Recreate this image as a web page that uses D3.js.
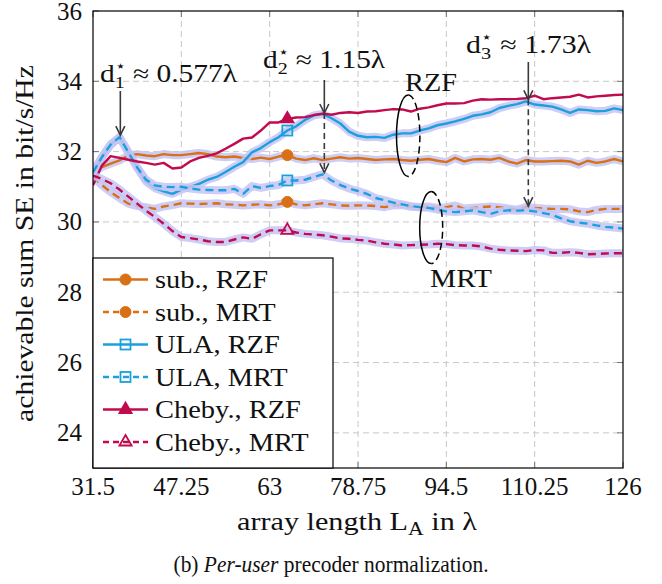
<!DOCTYPE html>
<html>
<head>
<meta charset="utf-8">
<script src="https://cdn.jsdelivr.net/npm/d3@7"></script>
<style>
  body { margin: 0; background: #fff; }
  text { font-family: "Liberation Serif", "Times New Roman", serif; fill: #111; }
</style>
</head>
<body>
<svg id="chart" width="662" height="584"></svg>
<script>
// antenna spacing d (in lambda) and array length L_A = 63 d
const dSpacing = d3.range(0, 61).map(i => 0.5 + 0.025 * i);
const arrayLen = dSpacing.map(d => 63 * d);

const subRZF = [31.41,31.56,31.66,31.75,31.89,31.93,31.89,31.87,31.93,31.90,
  31.90,31.93,31.96,31.93,31.86,31.84,31.86,31.82,31.79,31.83,
  31.79,31.86,31.90,31.80,31.76,31.81,31.76,31.80,31.84,31.80,
  31.82,31.79,31.76,31.78,31.79,31.76,31.74,31.77,31.79,31.74,
  31.70,31.82,31.72,31.78,31.79,31.77,31.82,31.72,31.66,31.76,
  31.72,31.72,31.73,31.74,31.72,31.63,31.74,31.68,31.72,31.79,31.72];
const subMRT = [31.29,31.05,30.85,30.68,30.52,30.45,30.42,30.37,30.44,30.48,
  30.53,30.52,30.51,30.52,30.53,30.50,30.49,30.47,30.49,30.50,
  30.47,30.50,30.57,30.50,30.47,30.50,30.53,30.50,30.47,30.46,
  30.47,30.47,30.45,30.42,30.47,30.48,30.43,30.42,30.44,30.40,
  30.42,30.47,30.38,30.40,30.42,30.44,30.42,30.38,30.35,30.42,
  30.40,30.38,30.37,30.37,30.36,30.30,30.28,30.34,30.37,30.37,30.37];
const ulaRZF = [31.41,31.84,32.20,32.41,31.98,31.55,31.15,30.96,30.87,30.80,
  30.92,31.00,31.08,31.20,31.28,31.42,31.57,31.70,31.98,32.10,
  32.27,32.41,32.60,32.72,32.90,33.03,33.07,32.95,32.80,32.57,
  32.45,32.41,32.42,32.39,32.48,32.52,32.52,32.60,32.66,32.75,
  32.80,32.86,32.93,33.02,33.06,33.12,33.24,33.30,33.35,33.43,
  33.34,33.31,33.28,33.20,33.10,33.20,33.18,33.15,33.16,33.23,33.18];
const ulaMRT = [31.41,31.84,32.20,32.41,31.98,31.55,31.20,31.04,31.00,30.99,
  31.00,30.95,30.92,30.91,30.90,30.90,30.94,30.80,31.02,30.97,
  31.02,31.05,31.18,31.18,31.20,31.28,31.35,31.18,31.05,30.95,
  30.88,30.80,30.68,30.62,30.55,30.50,30.45,30.42,30.40,30.35,
  30.30,30.28,30.30,30.33,30.28,30.23,30.30,30.33,30.32,30.33,
  30.30,30.25,30.20,30.10,30.02,29.98,29.95,29.90,29.86,29.84,29.81];
const chebyRZF = [31.04,31.60,31.87,31.82,31.77,31.72,31.68,31.63,31.68,31.52,
  31.55,31.72,31.82,31.88,31.95,32.08,32.22,32.37,32.40,32.60,
  32.83,32.83,32.93,32.97,32.98,33.04,33.08,33.05,33.10,33.12,
  33.10,33.14,33.15,33.18,33.21,33.20,33.14,33.22,33.26,33.32,
  33.37,33.37,33.38,33.45,33.49,33.48,33.49,33.49,33.50,33.52,
  33.59,33.49,33.52,33.54,33.56,33.62,33.54,33.57,33.59,33.61,33.62];
const chebyMRT = [31.32,31.22,31.10,30.92,30.72,30.52,30.32,30.14,29.95,29.74,
  29.57,29.54,29.50,29.45,29.43,29.43,29.50,29.56,29.52,29.65,
  29.76,29.76,29.76,29.70,29.66,29.64,29.62,29.58,29.53,29.52,
  29.49,29.47,29.42,29.38,29.36,29.33,29.34,29.35,29.36,29.38,
  29.37,29.34,29.33,29.33,29.30,29.24,29.21,29.19,29.18,29.17,
  29.20,29.19,29.12,29.12,29.14,29.12,29.08,29.09,29.10,29.11,29.11];

const xTicks = [31.5, 47.25, 63, 78.75, 94.5, 110.25, 126];
const xTickLabels = ["31.5", "47.25", "63", "78.75", "94.5", "110.25", "126"];
const yTicks = [24, 26, 28, 30, 32, 34, 36];
const markerIdx = 22;

const orange = "#d97014", blue = "#1aa0dc", crimson = "#c20a4e", haloColor = "#c4c4f4";

const series = [
  { name: "sub., RZF",    values: subRZF,   color: orange,  dash: null,  marker: "circle",   filled: true,  halo: true },
  { name: "sub., MRT",    values: subMRT,   color: orange,  dash: "8,5", marker: "circle",   filled: true,  halo: true },
  { name: "ULA, RZF",     values: ulaRZF,   color: blue,    dash: null,  marker: "square",   filled: false, halo: true },
  { name: "ULA, MRT",     values: ulaMRT,   color: blue,    dash: "8,5", marker: "square",   filled: false, halo: true },
  { name: "Cheby., RZF",  values: chebyRZF, color: crimson, dash: null,  marker: "triangle", filled: true,  halo: false },
  { name: "Cheby., MRT",  values: chebyMRT, color: crimson, dash: "8,5", marker: "triangle", filled: false, halo: true }
];

const svg = d3.select("#chart");
const pL = 93, pR = 623, pT = 11, pB = 468;

const x = d3.scaleLinear().domain([31.5, 126]).range([pL, pR]);
const y = d3.scaleLinear().domain([23, 36]).range([pB, pT]);

// stretch a text horizontally so it reaches a target width (CM is wider than Times)
function fit(text, target) {
  const w = text.node().getBBox().width;
  text.attr("transform", `scale(${target / w},1)`);
}

// ---------- grid ----------
const grid = svg.append("g");
grid.selectAll(".gx").data(xTicks.slice(1, -1)).enter().append("line")
  .attr("x1", d => x(d)).attr("x2", d => x(d)).attr("y1", pT).attr("y2", pB)
  .attr("stroke", "#c8c8c8").attr("stroke-dasharray", "6,4");
grid.selectAll(".gy").data(yTicks.slice(0, -1)).enter().append("line")
  .attr("x1", pL).attr("x2", pR).attr("y1", d => y(d)).attr("y2", d => y(d))
  .attr("stroke", "#c8c8c8").attr("stroke-dasharray", "6,4");

// inner ticks on all sides
const ticks = svg.append("g").attr("stroke", "#777").attr("stroke-width", 1);
xTicks.forEach(t => {
  ticks.append("line").attr("x1", x(t)).attr("x2", x(t)).attr("y1", pB).attr("y2", pB - 6);
  ticks.append("line").attr("x1", x(t)).attr("x2", x(t)).attr("y1", pT).attr("y2", pT + 6);
});
yTicks.forEach(t => {
  ticks.append("line").attr("x1", pL).attr("x2", pL + 6).attr("y1", y(t)).attr("y2", y(t));
  ticks.append("line").attr("x1", pR).attr("x2", pR - 6).attr("y1", y(t)).attr("y2", y(t));
});

// ---------- curves ----------
svg.append("clipPath").attr("id", "clip").append("rect")
  .attr("x", pL).attr("y", pT).attr("width", pR - pL).attr("height", pB - pT);

const line = d3.line().x((d, i) => x(arrayLen[i])).y(d => y(d));
const plot = svg.append("g").attr("clip-path", "url(#clip)");

series.forEach(s => {
  if (s.halo) {
    plot.append("path").attr("d", line(s.values))
      .attr("fill", "none").attr("stroke", haloColor).attr("stroke-width", 8)
      .attr("stroke-linejoin", "round").attr("stroke-opacity", 0.85);
  }
  plot.append("path").attr("d", line(s.values))
    .attr("fill", "none").attr("stroke", s.color).attr("stroke-width", 2.4)
    .attr("stroke-linejoin", "round")
    .attr("stroke-dasharray", s.dash);
});

function drawMarker(g, s, cx, cy) {
  if (s.marker === "circle") {
    g.append("circle").attr("cx", cx).attr("cy", cy).attr("r", 5.5)
      .attr("fill", s.color).attr("stroke", s.color);
  } else if (s.marker === "square") {
    g.append("rect").attr("x", cx - 5).attr("y", cy - 5).attr("width", 10).attr("height", 10)
      .attr("fill", "none").attr("stroke", s.color).attr("stroke-width", 1.8);
  } else {
    const r = 7;
    g.append("path")
      .attr("d", `M${cx},${cy - r} L${cx + r * 0.87},${cy + r * 0.5} L${cx - r * 0.87},${cy + r * 0.5}Z`)
      .attr("fill", s.filled ? s.color : "none").attr("stroke", s.color).attr("stroke-width", 1.8);
  }
}
series.forEach(s => drawMarker(svg, s, x(arrayLen[markerIdx]), y(s.values[markerIdx])));

// ---------- annotations ----------
const ann = svg.append("g");
const arrowColor = "#3a3a3a";

function arrowHead(xp, yp) {
  ann.append("path").attr("d", `M${xp - 4.5},${yp - 9} L${xp},${yp} L${xp + 4.5},${yp - 9}`)
    .attr("fill", "none").attr("stroke", arrowColor).attr("stroke-width", 1.6);
}
function vline(xp, y1, y2, dashed) {
  ann.append("line").attr("x1", xp).attr("x2", xp).attr("y1", y1).attr("y2", y2)
    .attr("stroke", arrowColor).attr("stroke-width", 1.6)
    .attr("stroke-dasharray", dashed ? "6,4" : null);
  arrowHead(xp, y2);
}
function dLabel(tx, ty, sub, val, width) {
  const g = ann.append("g").attr("transform", `translate(${tx},${ty})`);
  const t = g.append("text").attr("font-size", 25);
  t.append("tspan").text("d");
  t.append("tspan").attr("font-size", 17).attr("dy", 6).text(sub);
  t.append("tspan").attr("font-size", 15).attr("dx", -8.5).attr("dy", -17).text("⋆");
  t.append("tspan").attr("dy", 11).text(" ≈ " + val + "λ");
  fit(t, width);
}

// optimal array lengths: 63 * d*
const optLen1 = 63 / Math.sqrt(3), optLen2 = 126 / Math.sqrt(3), optLen3 = 63 * Math.sqrt(3);
dLabel(100, 82, "1", "0.577", 137);
vline(x(optLen1), 91, y(ulaRZF[3]) - 2, false);

dLabel(263, 68, "2", "1.15", 122);
vline(x(optLen2), 80, y(ulaRZF[26]) - 1, false);
vline(x(optLen2), y(ulaRZF[26]) - 1, y(ulaMRT[26]) - 2, true);

dLabel(466, 53, "3", "1.73", 124);
vline(x(optLen3), 62, y(ulaRZF[49]) - 2, false);
vline(x(optLen3), y(ulaRZF[49]) - 2, y(subMRT[49]) - 1, true);

function halfEllipses(cx, cy, rx, ry) {
  ann.append("path").attr("d", `M${cx},${cy - ry} A${rx},${ry} 0 0 0 ${cx},${cy + ry}`)
    .attr("fill", "none").attr("stroke", "#000").attr("stroke-width", 1.5);
  ann.append("path").attr("d", `M${cx},${cy - ry} A${rx},${ry} 0 0 1 ${cx},${cy + ry}`)
    .attr("fill", "none").attr("stroke", "#000").attr("stroke-width", 1.5)
    .attr("stroke-dasharray", "7,4");
}
halfEllipses(x(87.7), y(32.45), 11.7, 40.8);
halfEllipses(x(91.8), y(29.84), 11.5, 36);

function label(tx, ty, str, width, anchor) {
  const g = ann.append("g").attr("transform", `translate(${tx},${ty})`);
  const t = g.append("text").attr("font-size", 25).attr("text-anchor", anchor || "middle").text(str);
  fit(t, width);
  return t;
}
label(431, 91, "RZF", 52);
label(461, 287, "MRT", 62);

// ---------- frame ----------
svg.append("rect").attr("x", pL).attr("y", pT).attr("width", pR - pL).attr("height", pB - pT)
  .attr("fill", "none").attr("stroke", "#000").attr("stroke-width", 1.2);

// ---------- tick labels ----------
svg.append("g").selectAll("text").data(xTicks).enter().append("text")
  .attr("x", d => x(d)).attr("y", 495).attr("text-anchor", "middle").attr("font-size", 25)
  .text((d, i) => xTickLabels[i]);
svg.append("g").selectAll("text").data(yTicks).enter().append("text")
  .attr("x", 82).attr("y", d => y(d) + 8.5).attr("text-anchor", "end").attr("font-size", 25)
  .text(d => d);

// ---------- axis labels ----------
const xl = svg.append("g").attr("transform", "translate(357,530)")
  .append("text").attr("font-size", 25).attr("text-anchor", "middle");
xl.append("tspan").text("array length L");
xl.append("tspan").attr("font-size", 18).attr("dy", 5).text("A");
xl.append("tspan").attr("dy", -5).text(" in λ");
fit(xl, 240);

const yl = svg.append("g").attr("transform", "translate(33,243.5) rotate(-90)")
  .append("text").attr("font-size", 25).attr("text-anchor", "middle")
  .text("achievable sum SE in bit/s/Hz");
fit(yl, 357);

// ---------- legend ----------
const lg = svg.append("g");
lg.append("rect").attr("x", pL).attr("y", 258).attr("width", 240).attr("height", pB - 258)
  .attr("fill", "#fff").attr("stroke", "#000").attr("stroke-width", 1.2);
let legendScale = null;
series.forEach((s, i) => {
  const cy = 279.5 + i * 32.5;
  lg.append("line").attr("x1", 103).attr("x2", 148).attr("y1", cy).attr("y2", cy)
    .attr("stroke", s.color).attr("stroke-width", 2.4).attr("stroke-dasharray", s.dash ? "6,4" : null);
  drawMarker(lg, s, 125.5, cy);
  const t = lg.append("g").attr("transform", `translate(155,${cy + 8.5})`)
    .append("text").attr("font-size", 25).text(s.name);
  if (i === 0) legendScale = 113 / t.node().getBBox().width;
  t.attr("transform", `scale(${legendScale},1)`);
});

// ---------- caption ----------
const cap = svg.append("g").attr("transform", "translate(331,572)")
  .append("text").attr("text-anchor", "middle").attr("font-size", 24);
cap.append("tspan").text("(b) ");
cap.append("tspan").attr("font-style", "italic").text("Per-user");
cap.append("tspan").text(" precoder normalization.");
fit(cap, 315);
</script>
</body>
</html>
